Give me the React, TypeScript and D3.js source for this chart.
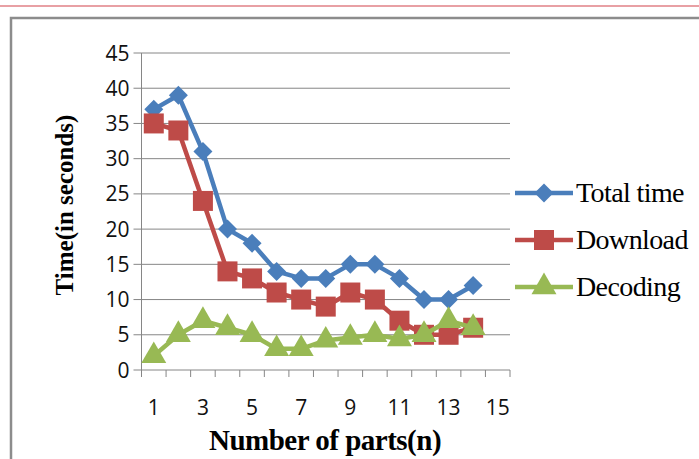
import React from "react";
import * as d3 from "d3";

const categories = [1, 2, 3, 4, 5, 6, 7, 8, 9, 10, 11, 12, 13, 14, 15];
const xTickLabels = ["1", "3", "5", "7", "9", "11", "13", "15"];
const yTicks = [0, 5, 10, 15, 20, 25, 30, 35, 40, 45];
const totalTime = [37, 39, 31, 20, 18, 14, 13, 13, 15, 15, 13, 10, 10, 12];
const download = [35, 34, 24, 14, 13, 11, 10, 9, 11, 10, 7, 5, 5, 6];
const decoding = [2, 5, 7, 6, 5, 3, 3, 4.2, 4.6, 5, 4.4, 5, 7, 6];
const seriesNames = ["Total time", "Download", "Decoding"];

const colors = ["#4a7ebb", "#be4b48", "#98b954"];

export default function App() {
  const W = 699, H = 459;
  const left = 141.5, right = 510, top = 53, bottom = 370;
  const x = d3.scaleBand<number>().domain(categories).range([left, right]);
  const y = d3.scaleLinear().domain([0, 45]).range([bottom, top]);
  const cx = (i: number) => (x(categories[i]) as number) + x.bandwidth() / 2;
  const line = d3.line<number>().x((_, i) => cx(i)).y((d) => y(d));
  const series = [totalTime, download, decoding];
  const symbols = [d3.symbolDiamond, d3.symbolSquare, d3.symbolTriangle];
  const sizes = [200, 400, 270];
  const marker = (k: number) => d3.symbol().type(symbols[k]).size(sizes[k])() as string;
  const diamondPath = () => {
    const w = 9.5, h = 9.5;
    return `M0,${-h}L${w},0L0,${h}L${-w},0Z`;
  };
  const mk = (k: number) => (k === 0 ? diamondPath() : marker(k));
  const legendY = [193, 240, 287];
  const boundaries = d3.range(categories.length + 1).map((i) => left + i * x.step());

  return (
    <svg width={W} height={H} style={{ position: "absolute", left: 0, top: 0 }}>
      <rect x={0} y={0} width={W} height={H} fill="#ffffff" />
      <line x1={0} x2={W} y1={6} y2={6} stroke="#e8a0a4" strokeWidth={2} />
      <path d={`M11,${H + 2}V18H${W + 2}`} fill="none" stroke="#8c8c8c" strokeWidth={2.5} />
      {yTicks.map((t) => (
        <g key={t}>
          <line x1={left - 8} x2={right} y1={y(t)} y2={y(t)} stroke="#868686" strokeWidth={1} />
          <text x={left - 12} y={y(t)} dy="0.36em" textAnchor="end" fontFamily="Open Sans" fontSize={21} fill="#111">
            {t}
          </text>
        </g>
      ))}
      <line x1={left} x2={left} y1={top} y2={bottom} stroke="#868686" strokeWidth={1} />
      {boundaries.map((b, i) => (
        <line key={i} x1={b} x2={b} y1={bottom} y2={bottom + 7} stroke="#868686" strokeWidth={1} />
      ))}
      {xTickLabels.map((l) => {
        const v = +l;
        return (
          <text key={l} x={(x(v) as number) + x.bandwidth() / 2} y={407} dy="0.36em" textAnchor="middle" fontFamily="Open Sans" fontSize={21} fill="#111">
            {l}
          </text>
        );
      })}
      {series.map((s, k) => (
        <g key={k}>
          <path d={line(s) as string} fill="none" stroke={colors[k]} strokeWidth={4.5} strokeLinejoin="round" />
          {s.map((v, i) => (
            <path key={i} d={mk(k)} transform={`translate(${cx(i)},${y(v)})`} fill={colors[k]} />
          ))}
        </g>
      ))}
      {seriesNames.map((n, k) => (
        <g key={n}>
          <line x1={515} x2={573} y1={legendY[k]} y2={legendY[k]} stroke={colors[k]} strokeWidth={4.5} />
          <path d={mk(k)} transform={`translate(544,${legendY[k]})`} fill={colors[k]} />
          <text x={576} y={legendY[k]} dy="0.33em" fontFamily="Liberation Serif" fontSize={28} fill="#000" letterSpacing={-0.6}>
            {n}
          </text>
        </g>
      ))}
      <text x={325} y={440} dy="0.35em" textAnchor="middle" fontFamily="Liberation Serif" fontWeight="bold" fontSize={29} fill="#000" letterSpacing={-0.5}>
        Number of parts(n)
      </text>
      <text transform="translate(64,205) rotate(-90)" dy="0.35em" textAnchor="middle" fontFamily="Liberation Serif" fontWeight="bold" fontSize={25} fill="#000">
        Time(in seconds)
      </text>
    </svg>
  );
}
